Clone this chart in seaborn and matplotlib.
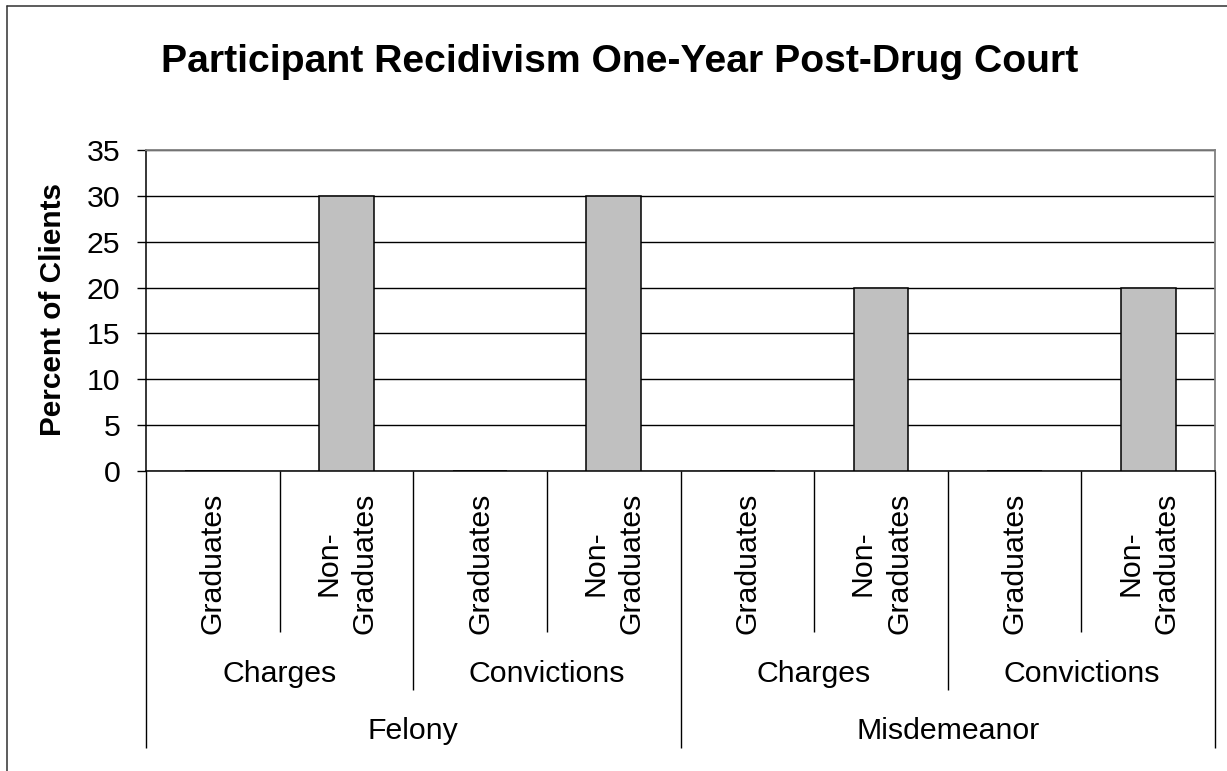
import matplotlib
matplotlib.use("Agg")
import matplotlib.pyplot as plt
import matplotlib.transforms as mtransforms
import seaborn as sns
import pandas as pd

# ---- data ----
offense = ["Felony", "Felony", "Felony", "Felony",
           "Misdemeanor", "Misdemeanor", "Misdemeanor", "Misdemeanor"]
outcome = ["Charges", "Charges", "Convictions", "Convictions",
           "Charges", "Charges", "Convictions", "Convictions"]
group = ["Graduates", "Non-\nGraduates", "Graduates", "Non-\nGraduates",
         "Graduates", "Non-\nGraduates", "Graduates", "Non-\nGraduates"]
percent = [0, 30, 0, 30, 0, 20, 0, 20]
y_ticks = [0, 5, 10, 15, 20, 25, 30, 35]

title = "Participant Recidivism One-Year Post-Drug Court"
ylabel = "Percent of Clients"

keys = [f"{a}|{b}|{c}" for a, b, c in zip(offense, outcome, group)]
df = pd.DataFrame({"key": keys, "percent": percent})

sns.set_theme(style="white")
plt.rcParams["font.family"] = ["Liberation Sans", "DejaVu Sans"]

FS = 21.8
W, H = 1227, 771
fig = plt.figure(figsize=(W / 100, H / 100), dpi=100)
fig.patch.set_facecolor("white")

x0, x1, yt, yb = 146, 1215, 150, 471
ax = fig.add_axes([x0 / W, 1 - yb / H, (x1 - x0) / W, (yb - yt) / H])

sns.barplot(data=df, x="key", y="percent", order=keys, color="#C0C0C0",
            saturation=1, width=0.41, edgecolor="black", linewidth=1.1,
            ax=ax, zorder=3)

ax.set_ylim(0, 35)
ax.set_xlim(-0.5, len(keys) - 0.5)
ax.set_yticks(y_ticks)
ax.set_yticklabels([str(t) for t in y_ticks], fontsize=FS, color="black")
ax.set_xticks([])
ax.set_xlabel("")
ax.set_ylabel("")
ax.tick_params(axis="y", left=True, direction="out", length=6.5, width=1,
               color="black", pad=12)
ax.yaxis.grid(True, color="black", linewidth=1)
ax.set_axisbelow(True)
for s in ["top", "right"]:
    ax.spines[s].set_color("#808080")
    ax.spines[s].set_linewidth(1.3)
for s in ["left", "bottom"]:
    ax.spines[s].set_color("black")
    ax.spines[s].set_linewidth(1.1)

# ---- multi-level category axis ----
tr = mtransforms.blended_transform_factory(ax.transData, fig.transFigure)
def fy(py):
    return 1 - py / H

n = len(keys)
axis_y = fy(yb)
for i in range(n + 1):
    xb = i - 0.5
    if i == 0 or i == n or offense[i - 1] != offense[i]:
        end = 748
    elif outcome[i - 1] != outcome[i]:
        end = 690
    else:
        end = 632
    ax.plot([xb, xb], [axis_y, fy(end)], transform=tr, color="black",
            lw=1.0, clip_on=False, solid_capstyle="butt")

for i, g in enumerate(group):
    ax.text(i, fy(563), g, transform=tr, rotation=90, ha="center",
            va="center", multialignment="center", fontsize=FS,
            linespacing=1.38, color="black")

# level 2 labels
i = 0
while i < n:
    j = i
    while j + 1 < n and outcome[j + 1] == outcome[i] and offense[j + 1] == offense[i]:
        j += 1
    ax.text((i + j) / 2, fy(682), outcome[i], transform=tr, ha="center",
            va="baseline", fontsize=FS, color="black")
    i = j + 1

# level 3 labels
i = 0
while i < n:
    j = i
    while j + 1 < n and offense[j + 1] == offense[i]:
        j += 1
    ax.text((i + j) / 2, fy(739), offense[i], transform=tr, ha="center",
            va="baseline", fontsize=FS, color="black")
    i = j + 1

# ---- title, y label ----
fig.text(620 / W, fy(72), title, ha="center", va="baseline",
         fontsize=28.2, fontweight="bold", color="black")
fig.text(53 / W, fy(310), ylabel, ha="center", va="center", rotation=90,
         fontsize=21.4, fontweight="bold", color="black")

# ---- outer chart border (left and top visible) ----
fig.add_artist(plt.Line2D([7 / W, 7 / W], [0, fy(6)], color="#303030",
                          lw=1.1, transform=fig.transFigure))
fig.add_artist(plt.Line2D([7 / W, 1], [fy(6), fy(6)], color="#303030",
                          lw=1.1, transform=fig.transFigure))

fig.savefig("out.png", dpi=100, facecolor="white")
